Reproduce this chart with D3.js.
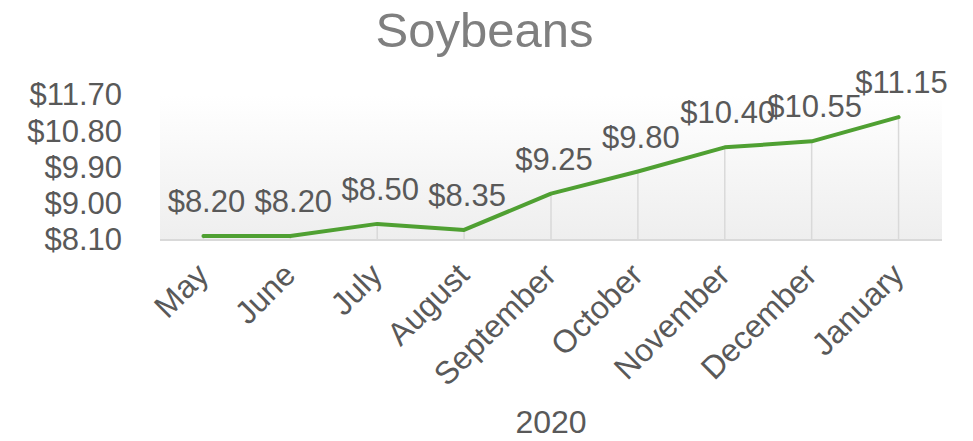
<!DOCTYPE html>
<html lang="en">
<head>
    <meta charset="utf-8">
    <title>Soybeans</title>
    <style>
        body { margin: 0; background: #fff; }
        text { font-family: "Liberation Sans", Arial, sans-serif; }
    </style>
</head>
<body>
    <script src="https://cdnjs.cloudflare.com/ajax/libs/d3/7.9.0/d3.min.js"></script>
    <script>

    const months = ["May", "June", "July", "August", "September", "October", "November", "December", "January"];
    const prices = [8.20, 8.20, 8.50, 8.35, 9.25, 9.80, 10.40, 10.55, 11.15];
    const yTicks = [8.10, 9.00, 9.90, 10.80, 11.70];
    const title = "Soybeans";
    const axisTitle = "2020";

    const width = 973;
    const height = 441;
    const margin = {top: 95, right: 31, bottom: 201, left: 160};

    const svg = d3.select("body")
        .append("svg")
        .attr("width", width)
        .attr("height", height);

    const defs = svg.append("defs");
    const grad = defs.append("linearGradient")
        .attr("id", "bg")
        .attr("x1", 0).attr("y1", 0).attr("x2", 0).attr("y2", 1);
    grad.append("stop").attr("offset", "0%").attr("stop-color", "#ffffff");
    grad.append("stop").attr("offset", "100%").attr("stop-color", "#eeeeee");

    const x = d3.scaleBand()
        .domain(months)
        .range([margin.left, width - margin.right]);

    const y = d3.scaleLinear()
        .domain([yTicks[0], yTicks[yTicks.length - 1]])
        .range([height - margin.bottom, margin.top]);

    const cx = d => x(d) + x.bandwidth() / 2;

    // plot area
    svg.append("rect")
        .attr("x", margin.left)
        .attr("y", margin.top)
        .attr("width", width - margin.left - margin.right)
        .attr("height", height - margin.top - margin.bottom)
        .attr("fill", "url(#bg)");

    // drop lines
    svg.selectAll(".drop")
        .data(months)
        .enter()
        .append("line")
        .attr("x1", d => cx(d))
        .attr("x2", d => cx(d))
        .attr("y1", (d, i) => y(prices[i]))
        .attr("y2", y(yTicks[0]))
        .attr("stroke", "#d9d9d9")
        .attr("stroke-width", 1.5);

    // bottom axis line
    svg.append("line")
        .attr("x1", margin.left)
        .attr("x2", width - margin.right)
        .attr("y1", y(yTicks[0]))
        .attr("y2", y(yTicks[0]))
        .attr("stroke", "#d9d9d9")
        .attr("stroke-width", 2);

    // y axis
    const yAxis = svg.append("g")
        .attr("transform", `translate(${margin.left},0)`)
        .call(d3.axisLeft(y).tickValues(yTicks).tickSize(0).tickPadding(38)
            .tickFormat(d => "$" + d3.format(".2f")(d)));
    yAxis.select(".domain").remove();
    yAxis.selectAll("text")
        .attr("fill", "#595959")
        .style("font-size", "31px");

    // x labels
    svg.selectAll(".xlab")
        .data(months)
        .enter()
        .append("text")
        .attr("transform", d => `translate(${cx(d) - 1},${y(yTicks[0]) + 29}) rotate(-45)`)
        .attr("text-anchor", "end")
        .attr("dy", "0.35em")
        .attr("fill", "#595959")
        .style("font-size", "32px")
        .text(d => d);

    // line
    const line = d3.line()
        .x((d, i) => cx(months[i]))
        .y(d => y(d));

    svg.append("path")
        .datum(prices)
        .attr("d", line)
        .attr("fill", "none")
        .attr("stroke", "#4fa032")
        .attr("stroke-width", 4)
        .attr("stroke-linejoin", "round")
        .attr("stroke-linecap", "round");

    // data labels
    svg.selectAll(".lab")
        .data(prices)
        .enter()
        .append("text")
        .attr("x", (d, i) => cx(months[i]) + 3)
        .attr("y", d => y(d) - 24)
        .attr("text-anchor", "middle")
        .attr("fill", "#595959")
        .style("font-size", "31px")
        .text(d => "$" + d3.format(".2f")(d));

    // titles
    svg.append("text")
        .attr("x", width / 2 - 2)
        .attr("y", 47)
        .attr("text-anchor", "middle")
        .attr("fill", "#7f7f7f")
        .style("font-size", "49px")
        .text(title);

    svg.append("text")
        .attr("x", (margin.left + width - margin.right) / 2)
        .attr("y", 433)
        .attr("text-anchor", "middle")
        .attr("fill", "#595959")
        .style("font-size", "32px")
        .text(axisTitle);

    </script>
</body>
</html>
